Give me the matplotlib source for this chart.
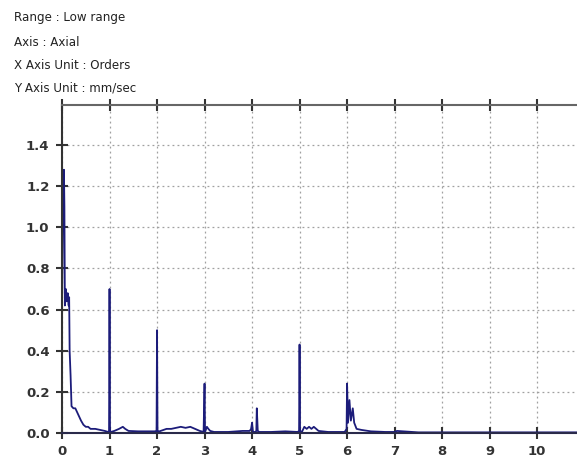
import matplotlib
matplotlib.use("Agg")
import matplotlib.pyplot as plt

# header lines shown above the plot
header_lines = ["Range : Low range", "Axis : Axial",
                "X Axis Unit : Orders", "Y Axis Unit : mm/sec"]

# spectrum (orders, mm/sec)
orders = [0.00, 0.02, 0.04, 0.05, 0.06, 0.08, 0.10, 0.12, 0.14, 0.15,
          0.16, 0.18, 0.20, 0.24, 0.28, 0.32, 0.36, 0.40, 0.45, 0.50,
          0.55, 0.60, 0.70, 0.80, 0.90, 0.97, 0.99, 1.00, 1.01, 1.03,
          1.10, 1.20, 1.28, 1.33, 1.40, 1.60, 1.80, 1.95, 1.99, 2.00,
          2.01, 2.05, 2.20, 2.30, 2.40, 2.50, 2.60, 2.70, 2.80, 2.90,
          2.98, 3.00, 3.01, 3.05, 3.08, 3.12, 3.20, 3.50, 3.80, 3.95,
          3.98, 4.00, 4.02, 4.07, 4.09, 4.10, 4.12, 4.15, 4.40, 4.70,
          4.96, 4.99, 5.00, 5.01, 5.05, 5.10, 5.15, 5.20, 5.25, 5.30,
          5.35, 5.40, 5.60, 5.95, 5.99, 6.00, 6.02, 6.05, 6.08, 6.12,
          6.15, 6.20, 6.30, 6.50, 6.80, 7.00, 7.05, 7.50, 8.00, 9.00,
          10.00, 10.90]
velocity = [0.62, 1.12, 1.28, 1.10, 0.62, 0.70, 0.64, 0.68, 0.62, 0.66,
            0.40, 0.28, 0.13, 0.12, 0.12, 0.10, 0.08, 0.06, 0.04, 0.03,
            0.03, 0.02, 0.02, 0.015, 0.01, 0.005, 0.01, 0.70, 0.01, 0.005,
            0.01, 0.02, 0.03, 0.02, 0.01, 0.008, 0.008, 0.008, 0.01, 0.50,
            0.01, 0.008, 0.02, 0.02, 0.025, 0.03, 0.025, 0.03, 0.02, 0.01,
            0.005, 0.24, 0.005, 0.03, 0.02, 0.01, 0.005, 0.005, 0.01, 0.01,
            0.02, 0.05, 0.005, 0.005, 0.01, 0.12, 0.01, 0.005, 0.005, 0.008,
            0.005, 0.01, 0.43, 0.01, 0.005, 0.03, 0.02, 0.03, 0.02, 0.03,
            0.02, 0.01, 0.005, 0.005, 0.02, 0.24, 0.05, 0.16, 0.06, 0.12,
            0.05, 0.02, 0.015, 0.008, 0.005, 0.005, 0.01, 0.003, 0.003, 0.003,
            0.003, 0.003]

x_ticks = list(range(0, 11))
y_ticks = [0.0, 0.2, 0.4, 0.6, 0.8, 1.0, 1.2, 1.4]

fig = plt.figure(figsize=(5.77, 4.62), dpi=100)
ax = fig.add_axes([0.1075, 0.0628, 0.8925, 0.71])

ax.plot(orders, velocity, color="#1c1c7a", lw=1.3)

ax.set_xlim(0, 10.84)
ax.set_ylim(0, 1.595)
ax.set_xticks(x_ticks)
ax.set_yticks(y_ticks)
ax.set_yticklabels([f"{v:.1f}" for v in y_ticks])

ax.grid(True, color="#a0a0a0", linestyle=(0, (1.5, 2.5)), lw=0.9)
ax.tick_params(axis="both", which="major", direction="inout", length=8,
               width=1.5, colors="#333333", labelsize=9.5, pad=5,
               top=True, bottom=True, left=True)
for lab in ax.get_xticklabels() + ax.get_yticklabels():
    lab.set_fontweight("bold")

ax.spines["right"].set_visible(False)
ax.spines["left"].set_color("#333333")
ax.spines["bottom"].set_color("#2a2a4a")
ax.spines["top"].set_color("#666666")
for s in ["left", "bottom", "top"]:
    ax.spines[s].set_linewidth(1.5)

header_y = [17, 42, 66, 88]
for line, py in zip(header_lines, header_y):
    fig.text(14 / 577, 1 - py / 462, line, fontsize=8.6, color="#222222",
             family="DejaVu Sans", va="center", ha="left")

fig.savefig("out.png", dpi=100)
